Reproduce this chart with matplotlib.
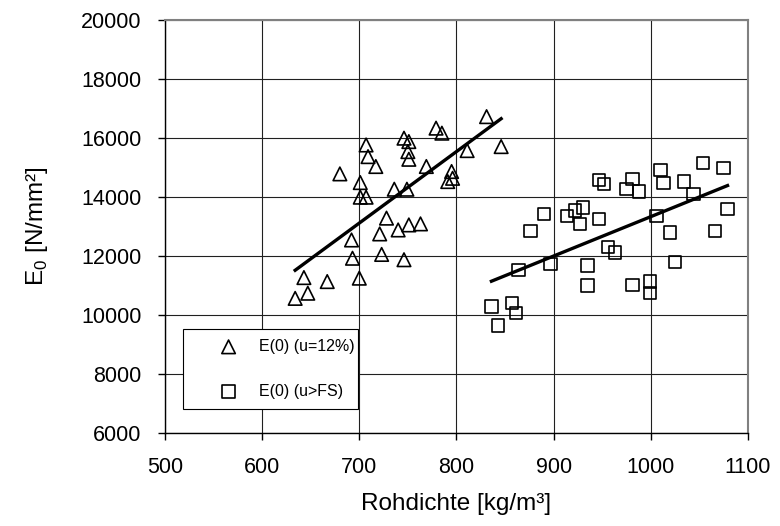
import matplotlib.pyplot as plt
import numpy as np

plt.rcParams["font.family"] = ["Liberation Sans", "DejaVu Sans"]
plt.rcParams["mathtext.fontset"] = "custom"
plt.rcParams["mathtext.rm"] = "Liberation Sans"

# Rohdichte [kg/m³] und E-Modul [N/mm²] bei u = 12 %
dichte_12 = [634, 647, 643, 667, 700, 693, 692, 723, 721, 746, 728, 740,
             751, 763, 736, 749, 701, 707, 701, 680, 707, 709, 717, 746,
             751, 750, 751, 769, 779, 785, 795, 796, 791, 811, 831, 846]
e0_12 = [10560, 10735, 11265, 11130, 11245, 11920, 12540, 12050, 12745, 11870,
         13280, 12880, 13050, 13085, 14260, 14260, 13990, 13990, 14485, 14780,
         15760, 15365, 15030, 15990, 15875, 15535, 15275, 15030, 16330, 16160,
         14860, 14630, 14520, 15570, 16720, 15705]

# Rohdichte und E-Modul oberhalb Fasersättigung
dichte_fs = [947, 952, 890, 876, 914, 922, 930, 927, 947, 956, 963, 864,
             897, 935, 935, 836, 857, 861, 843, 1054, 1075, 1010, 1013, 1034,
             1044, 981, 975, 988, 1079, 1006, 1020, 1066, 1025, 981, 999, 999]
e0_fs = [14575, 14440, 13415, 12845, 13355, 13535, 13635, 13075, 13245, 12295,
         12110, 11525, 11730, 11670, 10995, 10280, 10395, 10055, 9635, 15140,
         14975, 14915, 14465, 14520, 14100, 14600, 14260, 14180, 13585, 13355,
         12790, 12845, 11785, 11015, 11130, 10735]

x_ticks = [500, 600, 700, 800, 900, 1000, 1100]
y_ticks = [6000, 8000, 10000, 12000, 14000, 16000, 18000, 20000]

fig = plt.figure(figsize=(7.8, 5.26), dpi=100)
ax = fig.add_axes([0.2115, 0.177, 0.7474, 0.7852])

ax.scatter(dichte_12, e0_12, marker="^", s=95, facecolors="none",
           edgecolors="black", linewidths=1.2, zorder=3, label="E(0) (u=12%)")
ax.scatter(dichte_fs, e0_fs, marker="s", s=80, facecolors="none",
           edgecolors="black", linewidths=1.2, zorder=3, label="E(0) (u>FS)")

# lineare Trendlinien über den Datenbereich
for xs, ys in [(dichte_12, e0_12), (dichte_fs, e0_fs)]:
    k, d = np.polyfit(xs, ys, 1)
    xl = np.array([min(xs), max(xs)])
    ax.plot(xl, k * xl + d, color="black", lw=2.4, zorder=4)

ax.set_xlim(500, 1100)
ax.set_ylim(6000, 20000)
ax.set_xticks(x_ticks)
ax.set_yticks(y_ticks)
ax.tick_params(direction="out", length=5, width=1, labelsize=15.5, pad=12)
ax.grid(True, color="#202020", lw=0.8, zorder=0)
ax.set_axisbelow(True)

for side in ["top", "right"]:
    ax.spines[side].set_color("#808080")
    ax.spines[side].set_linewidth(1.5)
for side in ["left", "bottom"]:
    ax.spines[side].set_linewidth(1.0)

ax.set_xlabel("Rohdichte [kg/m³]", fontsize=17.5, labelpad=11)
ax.set_ylabel(r"E$_\mathregular{0}$ [N/mm²]", fontsize=17.5, labelpad=22)

leg = ax.legend(loc="lower left", bbox_to_anchor=(0.031, 0.058, 0.30, 0.189),
                mode="expand", borderaxespad=0, fontsize=11.5, frameon=True,
                fancybox=False, framealpha=1, edgecolor="black",
                borderpad=0.65, labelspacing=1.85, handlelength=4.4,
                handletextpad=-0.3, scatterpoints=1)
leg.get_frame().set_linewidth(0.8)

plt.savefig("out.png", dpi=100)
